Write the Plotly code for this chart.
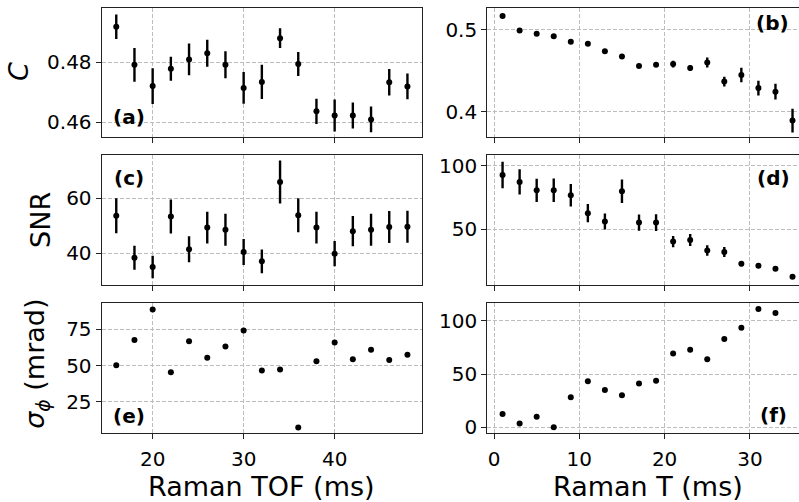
import plotly.graph_objects as go

W, H = 799, 502

# ---------------- data ----------------
tof = [16, 18, 20, 22, 24, 26, 28, 30, 32, 34, 36, 38, 40, 42, 44, 46, 48]
raman_t = [1, 3, 5, 7, 9, 11, 13, 15, 17, 19, 21, 23, 25, 27, 29, 31, 33, 35]
raman_t_f = [1, 3, 5, 7, 9, 11, 13, 15, 17, 19, 21, 23, 25, 27, 29, 31, 33]

C_tof = [0.4918, 0.4791, 0.4720, 0.4778, 0.4809, 0.4830, 0.4791, 0.4714, 0.4734,
         0.4880, 0.4794, 0.4636, 0.4622, 0.4622, 0.4609, 0.4733, 0.4719]
C_tof_err = [0.0041, 0.0056, 0.0060, 0.0040, 0.0053, 0.0045, 0.0045, 0.0053, 0.0057,
             0.0033, 0.0040, 0.0042, 0.0053, 0.0043, 0.0043, 0.0044, 0.0043]

C_T = [0.5169, 0.4992, 0.4952, 0.4923, 0.4855, 0.4831, 0.4739, 0.4675, 0.4558,
       0.4574, 0.4582, 0.4534, 0.4602, 0.4369, 0.4449, 0.4289, 0.4245, 0.3892]
C_T_err = [0.0015, 0.0015, 0.0015, 0.0015, 0.0015, 0.0015, 0.0015, 0.0015, 0.0015,
           0.0018, 0.0042, 0.0035, 0.0060, 0.0060, 0.0088, 0.0090, 0.0096, 0.0145]

SNR_tof = [53.7, 38.4, 35.0, 53.4, 41.5, 49.4, 48.6, 40.5, 37.1,
           66.0, 53.9, 49.4, 39.9, 48.1, 48.6, 49.6, 49.7]
SNR_tof_err = [6.4, 4.4, 4.1, 6.2, 4.7, 5.8, 5.8, 4.7, 4.3,
               7.8, 6.2, 5.8, 4.6, 5.5, 5.8, 5.8, 5.8]

SNR_T = [92.8, 87.4, 80.8, 80.8, 76.9, 62.8, 56.2, 80.0, 55.4,
         55.4, 40.5, 41.8, 33.5, 32.3, 23.1, 21.5, 19.2, 12.8]
SNR_T_err = [10.4, 9.9, 9.1, 9.2, 8.8, 7.2, 6.3, 9.2, 6.4,
             6.5, 4.4, 4.7, 4.1, 4.0, 2.0, 1.5, 1.5, 1.0]

sig_tof = [50.3, 67.7, 88.7, 45.5, 66.8, 55.4, 63.2, 74.2, 46.6,
           47.3, 7.5, 53.0, 65.9, 54.5, 60.9, 53.9, 57.5]

sig_T = [12.4, 3.4, 9.9, 0.0, 28.2, 43.3, 35.0, 30.0, 41.2,
         43.7, 69.3, 72.8, 63.8, 83.0, 93.5, 111.2, 107.4]

left_xticks = [20, 30, 40]
right_xticks = [0, 10, 20, 30]

# ---------------- geometry (pixels) ----------------
LX = (101.7, 422.0)
RX = (487.3, 799.0)
ROWS = [(7.3, 138.3), (156.0, 287.7), (306.7, 438.3)]


def xdom(px):
    return [px[0] / W, px[1] / W]


def ydom(py):
    return [1 - py[1] / H, 1 - py[0] / H]


FONT = "DejaVu Sans"
marker = dict(color="black", size=6)

fig = go.Figure()


def add(xv, yv, err, ax):
    tr = go.Scatter(x=xv, y=yv, mode="markers", marker=marker,
                    xaxis="x" + ax, yaxis="y" + ax, showlegend=False)
    if err is not None:
        tr.error_y = dict(type="data", array=err, visible=True, color="black",
                          thickness=2.4, width=0)
    fig.add_trace(tr)


add(tof, C_tof, C_tof_err, "")
add(raman_t, C_T, C_T_err, "2")
add(tof, SNR_tof, SNR_tof_err, "3")
add(raman_t, SNR_T, SNR_T_err, "4")
add(tof, sig_tof, None, "5")
add(raman_t_f, sig_T, None, "6")

grid = dict(showgrid=True, gridcolor="#bdbdbd", gridwidth=1, griddash="4px,2px",
            zeroline=False, showline=True, linecolor="#222", linewidth=1.2,
            ticks="outside", ticklen=5, tickwidth=1, tickcolor="#222",
            tickfont=dict(family=FONT, size=20, color="black"))

axes = {}
panels = [
    ("", LX, ROWS[0], [14.4, 49.6], [0.4549, 0.498], left_xticks, [0.46, 0.48], False, True),
    ("2", RX, ROWS[0], [-0.79, 35.76], [0.3687, 0.5265], right_xticks, [0.4, 0.5], False, False),
    ("3", LX, ROWS[1], [14.4, 49.6], [28.6, 75.9], left_xticks, [40, 60], False, True),
    ("4", RX, ROWS[1], [-0.79, 35.76], [6.6, 108.7], right_xticks, [50, 100], False, False),
    ("5", LX, ROWS[2], [14.4, 49.6], [3.5, 92.9], left_xticks, [25, 50, 75], True, True),
    ("6", RX, ROWS[2], [-0.79, 35.76], [-5.6, 116.4], right_xticks, [0, 50, 100], True, False),
]
for ax, xp, yp, xr, yr, xt, yt, showx, mir in panels:
    axes["xaxis" + ax] = dict(grid, domain=xdom(xp), range=xr, tickvals=xt,
                              showticklabels=showx, mirror=True,
                              ticklabelstandoff=3, anchor="y" + ax)
    axes["yaxis" + ax] = dict(grid, domain=ydom(yp), range=yr, tickvals=yt,
                              mirror=mir, anchor="x" + ax)

ann = []


def text(t, px, py, size, angle=0, bold=False):
    ann.append(dict(text=("<b>%s</b>" % t) if bold else t, x=px / W, y=1 - py / H,
                    xref="paper", yref="paper", showarrow=False, textangle=angle,
                    xanchor="center", yanchor="middle",
                    font=dict(family=FONT, size=size, color="black")))


text("(a)", 129, 118, 20, bold=True)
text("(b)", 772.5, 22, 20, bold=True)
text("(c)", 128.5, 179, 20, bold=True)
text("(d)", 773, 179, 20, bold=True)
text("(e)", 129, 421, 20, bold=True)
text("(f)", 773, 420, 20, bold=True)

text("<i>C</i>", 19, 72, 27, angle=-90)
text("SNR", 41, 222, 27, angle=-90)
text("<i>σ</i><sub><i>ϕ</i></sub> (mrad)", 37, 368, 27, angle=-90)
text("Raman TOF (ms)", 261, 492, 27)
text("Raman T (ms)", 648, 492, 27)

fig.update_layout(width=W, height=H, margin=dict(l=0, r=0, t=0, b=0),
                  plot_bgcolor="white", paper_bgcolor="white",
                  annotations=ann, **axes)

fig.write_html("out.html", config={"displayModeBar": False},
               post_script="document.body.style.margin='0';"
                           "document.body.style.padding='0';"
                           "document.body.style.overflow='hidden';")
